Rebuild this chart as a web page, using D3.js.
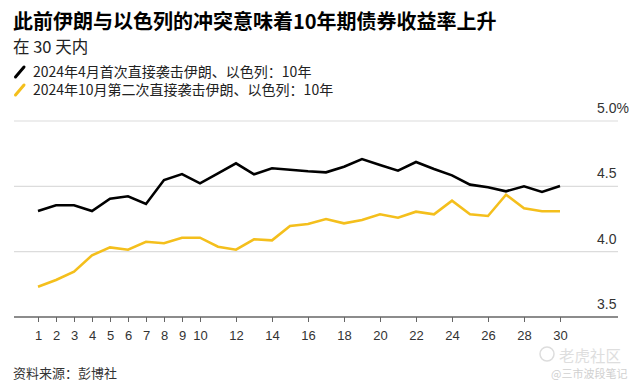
<!DOCTYPE html>
<html><head><meta charset="utf-8">
<script src="https://cdn.jsdelivr.net/npm/d3@7"></script>
<style>
html,body{margin:0;padding:0;background:#fff;}
svg{display:block;font-family:"Liberation Sans",Arial,"Noto Sans CJK SC",sans-serif;}
</style></head><body>
<svg id="c" width="639" height="388"></svg>
<script>
const days = d3.range(1, 31);
const seriesNames = ["2024年4月首次直接袭击伊朗、以色列：10年", "2024年10月第二次直接袭击伊朗、以色列：10年"];
const aprilValues = [4.311,4.355,4.355,4.311,4.405,4.424,4.365,4.548,4.594,4.523,4.600,4.676,4.592,4.638,4.627,4.615,4.607,4.650,4.709,4.663,4.620,4.686,4.633,4.584,4.513,4.493,4.462,4.500,4.457,4.503];
const octoberValues = [3.732,3.783,3.847,3.972,4.033,4.015,4.076,4.064,4.107,4.107,4.038,4.015,4.095,4.087,4.196,4.212,4.250,4.217,4.242,4.286,4.260,4.306,4.286,4.390,4.286,4.273,4.436,4.332,4.309,4.309];
const xTicks = [1,2,3,4,5,6,7,8,9,10,12,14,16,18,20,22,24,26,28,30];
const yTicks = [3.5,4.0,4.5,5.0];
const colors = ["#000000", "#f4bf1c"];

const svg = d3.select("#c");
const cjk = '"Noto Sans CJK SC","Liberation Sans",sans-serif';

svg.append("text").attr("x",13).attr("y",29).attr("font-size",20).attr("font-weight","bold")
  .attr("font-family",cjk).attr("fill","#000").text("此前伊朗与以色列的冲突意味着10年期债券收益率上升");
svg.append("text").attr("x",13).attr("y",53).attr("font-size",16.5).attr("font-family",cjk)
  .attr("fill","#222").text("在 30 天内");

const series = [aprilValues, octoberValues];
seriesNames.forEach((n,i)=>{
  const y0 = 72 + i*18;
  svg.append("line").attr("x1",15.5).attr("y1",y0+5).attr("x2",24).attr("y2",y0-5)
    .attr("stroke",colors[i]).attr("stroke-width",3).attr("stroke-linecap","round");
  svg.append("text").attr("x",33).attr("y",y0+5).attr("font-size",14).attr("font-family",cjk)
    .attr("fill","#222").text(n);
});

const x = d3.scaleLinear().domain([1,30]).range([38,560]);
const y = d3.scaleLinear().domain([3.5,5.0]).range([317,121]);

// gridlines
svg.append("g").selectAll("line").data(yTicks.filter(d=>d>3.5)).join("line")
  .attr("x1",14).attr("x2",618).attr("y1",d=>y(d)).attr("y2",d=>y(d))
  .attr("stroke","#dcdcdc").attr("stroke-width",1.2);
// y labels
svg.append("g").selectAll("text").data(yTicks).join("text")
  .attr("x",597).attr("y",d=>y(d)-8).attr("font-size",14).attr("fill","#333")
  .text(d=> d===5.0 ? "5.0%" : d3.format(".1f")(d));

// x axis
const xAxis = d3.axisBottom(x).tickValues(xTicks).tickSize(5).tickPadding(9).tickFormat(d3.format("d"));
const gx = svg.append("g").attr("transform",`translate(0,${y(3.5)})`).call(xAxis);
gx.select(".domain").remove();
gx.selectAll(".tick line").attr("stroke","#666");
gx.selectAll(".tick text").attr("font-size",13).attr("fill","#333")
  .attr("font-family",'"Liberation Sans",Arial,sans-serif');
svg.append("line").attr("x1",14).attr("x2",618).attr("y1",y(3.5)).attr("y2",y(3.5))
  .attr("stroke","#666").attr("stroke-width",1.3);

const line = d3.line().x((d,i)=>x(days[i])).y(d=>y(d));
[1,0].forEach(i=>{
  svg.append("path").datum(series[i]).attr("d",line).attr("fill","none")
    .attr("stroke",colors[i]).attr("stroke-width",2.6).attr("stroke-linejoin","miter");
});

svg.append("text").attr("x",13).attr("y",378).attr("font-size",13).attr("font-family",cjk)
  .attr("fill","#333").text("资料来源：彭博社");

// watermark
svg.append("circle").attr("cx",547).attr("cy",354).attr("r",7).attr("fill","none").attr("stroke","#ddd").attr("stroke-width",1.5);
svg.append("text").attr("x",559).attr("y",361.5).attr("font-size",15.5).attr("font-family",cjk)
  .attr("fill","#dedede").text("老虎社区");
svg.append("text").attr("x",551).attr("y",378).attr("font-size",11).attr("font-family",cjk)
  .attr("fill","#d0d0d0").text("@三市波段笔记");
</script>
</body></html>
